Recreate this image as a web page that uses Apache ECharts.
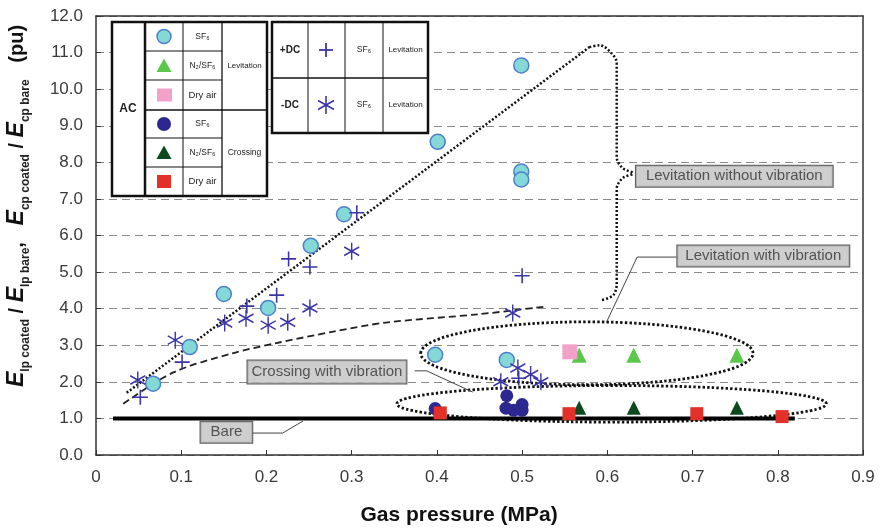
<!DOCTYPE html>
<html><head><meta charset="utf-8">
<script src="https://cdn.jsdelivr.net/npm/echarts@6/dist/echarts.min.js"></script>
<style>html,body{margin:0;padding:0;background:#fff}#c{width:882px;height:531px}</style>
</head><body><div id="c"></div>
<script>
// ---------------- data ----------------
const xTickLabels = ['0','0.1','0.2','0.3','0.4','0.5','0.6','0.7','0.8','0.9'];
const yTickLabels = ['0.0','1.0','2.0','3.0','4.0','5.0','6.0','7.0','8.0','9.0','10.0','11.0','12.0'];

const acSF6Lev   = [[0.067,1.95],[0.110,2.95],[0.150,4.40],[0.202,4.02],[0.252,5.72],[0.291,6.58],[0.401,8.56],[0.499,10.65],[0.499,7.75],[0.499,7.53],[0.398,2.74],[0.482,2.60]];
const acN2Lev    = [[0.567,2.73],[0.631,2.73],[0.752,2.73]];
const acAirLev   = [[0.556,2.82]];
const acSF6Cross = [[0.398,1.27],[0.482,1.62],[0.481,1.28],[0.490,1.22],[0.500,1.38],[0.500,1.22]];
const acN2Cross  = [[0.567,1.29],[0.631,1.29],[0.752,1.29]];
const acAirCross = [[0.404,1.15],[0.555,1.13],[0.705,1.13],[0.805,1.05]];
const dcPosLev   = [[0.052,1.58],[0.101,2.54],[0.177,4.07],[0.212,4.37],[0.226,5.36],[0.251,5.14],[0.306,6.62],[0.500,4.90],[0.496,2.10]];
const dcNegLev   = [[0.049,2.05],[0.093,3.14],[0.151,3.61],[0.176,3.74],[0.202,3.55],[0.225,3.63],[0.251,4.02],[0.300,5.57],[0.489,3.88],[0.475,2.00],[0.495,2.38],[0.510,2.20],[0.522,2.00]];

// trend / annotation lines (data coordinates)
const levTrend   = [[0.036,1.70],[0.579,11.15]];
const braceLine  = [[0.579,11.15],[0.591,11.20],[0.605,10.98],[0.611,10.71],[0.611,8.14],[0.618,7.84],[0.630,7.70],[0.618,7.57],[0.611,7.27],[0.611,4.70],[0.607,4.37],[0.593,4.23]];
const crossTrend = [[0.032,1.40],[0.090,2.25],[0.160,2.78],[0.210,3.05],[0.280,3.38],[0.340,3.62],[0.450,3.85],[0.525,4.05]];
const bareLine   = [[0.02,1.0],[0.82,1.0]];
const ellipses   = [[0.576,2.78,0.195,0.86],[0.605,1.40,0.252,0.50]]; // cx, cy, rx, ry
const noteTexts  = ['Levitation without vibration','Levitation with vibration','Crossing with vibration','Bare'];
const notePos    = [[0.749,7.62],[0.783,5.44],[0.271,2.27],[0.153,0.62]];
const leaders    = [
  [[0.681,5.41],[0.635,5.41],[0.599,3.63]],
  [[0.374,2.30],[0.388,2.30],[0.442,1.72]],
  [[0.184,0.60],[0.219,0.60],[0.243,0.93]]
];

// ---------------- styles ----------------
const FONT = 'Liberation Sans';
const C = {cyan:'#84d9d6', cyanB:'#4f80cc', green:'#5bc84b', pink:'#f2a2c8', navy:'#2d2890', dkgreen:'#0c4a1d', red:'#e3312a', dc:'#3b35a8'};
const plusPath = 'path://M10,0 L10,20 M0,10 L20,10';
const astPath  = 'path://M10,0 L10,20 M1.3,5 L18.7,15 M1.3,15 L18.7,5';
const notePad  = [[3,10],[3,8],[4,4],[3,10]];

function lineSeries(data, style, extra){
  return Object.assign({type:'line', data, symbol:'none', silent:true, lineStyle:style, z:2, animation:false}, extra||{});
}

const series = [];
series.push(lineSeries(bareLine, {color:'#000', width:4, type:'solid'}));
series.push(lineSeries(levTrend, {color:'#111', width:2.5, type:[2,2]}));
series.push(lineSeries(braceLine, {color:'#111', width:2.5, type:[2,2]}, {smooth:0.35}));
series.push(lineSeries(crossTrend, {color:'#222', width:1.8, type:[7,4]}, {smooth:0.3}));
leaders.forEach(l => series.push(lineSeries(l, {color:'#444', width:1, type:'solid'})));
series.push({
  type:'custom', data: ellipses, silent:true, clip:false, z:2,
  renderItem(params, api){
    const c = api.coord([api.value(0), api.value(1)]);
    const s = api.size([api.value(2), api.value(3)]);
    return {type:'ellipse', shape:{cx:c[0], cy:c[1], rx:s[0], ry:s[1]},
            style:{fill:null, stroke:'#111', lineWidth:2.8, lineDash:[2.4,2.2]}};
  }
});
function sc(data, symbol, size, item){
  return {type:'scatter', data, symbol, symbolSize:size, itemStyle:item, z:4, silent:true};
}
series.push(sc(acSF6Lev, 'circle', 15, {color:C.cyan, borderColor:C.cyanB, borderWidth:1.5, opacity:1}));
series.push(sc(acN2Lev, 'triangle', 15, {color:C.green, opacity:1}));
series.push(sc(acAirLev, 'rect', 15, {color:C.pink, opacity:1}));
series.push(sc(acSF6Cross, 'circle', 13, {color:C.navy, opacity:1}));
series.push(sc(acN2Cross, 'triangle', 14, {color:C.dkgreen, opacity:1}));
series.push(sc(acAirCross, 'rect', 13, {color:C.red, opacity:1}));
series.push(sc(dcPosLev, plusPath, 15, {color:'transparent', borderColor:C.dc, borderWidth:1.6, opacity:1}));
series.push(sc(dcNegLev, astPath, [15,17], {color:'transparent', borderColor:C.dc, borderWidth:1.5, opacity:1}));
series.push({
  type:'scatter', z:6, silent:true, symbolSize:1, itemStyle:{color:'transparent'},
  data: noteTexts.map((t,i)=>({name:t, value:notePos[i], label:{padding:notePad[i]}})),
  label:{show:true, position:'inside', formatter:'{b}', fontFamily:FONT, fontSize:15, color:'#333',
         backgroundColor:'#c2c2c2', borderColor:'#333', borderWidth:1}
});

// ---------------- legend tables (graphic) ----------------
const G = [];
const ink = '#111';
function gl(x1,y1,x2,y2,w,col){G.push({type:'line', shape:{x1,y1,x2,y2}, style:{stroke:col||ink, lineWidth:w}, z:21});}
function gt(x,y,text,size,bold){G.push({type:'text', x, y, z:22, style:{text, fontSize:size, fontWeight:bold?'bold':'normal', fill:'#222', align:'center', verticalAlign:'middle', fontFamily:FONT}});}
// left table
G.push({type:'rect', shape:{x:112,y:22,width:155,height:174}, style:{fill:'#fff', stroke:ink, lineWidth:2.5}, z:20});
const L = {x1:145, x2:183, x3:222, x4:267, rows:[22,51,80,110,138,167,196]};
gl(L.x1,22,L.x1,196,2.5);
gl(L.x2,22,L.x2,196,1);
gl(L.x3,22,L.x3,196,1.3);
[51,80,138,167].forEach(y=>gl(L.x1,y,L.x3,y,1));
gl(L.x1,110,L.x4,110,1.6);
gt(128,109,'AC',12,true);
const gasNames = ['SF₆','N₂/SF₆','Dry air','SF₆','N₂/SF₆','Dry air'];
gasNames.forEach((g,i)=>gt(202.5,(L.rows[i]+L.rows[i+1])/2,g,g==='Dry air'?9.5:8.5,false));
gt(244.5,66,'Levitation',8,false);
gt(244.5,153,'Crossing',8.5,false);
const sy = i => (L.rows[i]+L.rows[i+1])/2;
G.push({type:'circle', shape:{cx:164,cy:sy(0),r:7}, style:{fill:C.cyan, stroke:C.cyanB, lineWidth:1.5}, z:22});
G.push({type:'polygon', shape:{points:[[164,sy(1)-7],[171.5,sy(1)+6.5],[156.5,sy(1)+6.5]]}, style:{fill:C.green}, z:22});
G.push({type:'rect', shape:{x:157,y:sy(2)-6.5,width:15,height:13}, style:{fill:C.pink}, z:22});
G.push({type:'circle', shape:{cx:164,cy:sy(3),r:7}, style:{fill:C.navy}, z:22});
G.push({type:'polygon', shape:{points:[[164,sy(4)-7],[171.5,sy(4)+6.5],[156.5,sy(4)+6.5]]}, style:{fill:C.dkgreen}, z:22});
G.push({type:'rect', shape:{x:157,y:sy(5)-6.5,width:14,height:13}, style:{fill:C.red}, z:22});
// right table
G.push({type:'rect', shape:{x:272,y:22,width:156,height:111}, style:{fill:'#fff', stroke:ink, lineWidth:2.5}, z:20});
[308,345,383].forEach(x=>gl(x,22,x,133,1));
gl(272,78,428,78,1.6);
gt(290,50,'+DC',10,true);
gt(290,105,'-DC',10,true);
gt(364,50,'SF₆',8.5,false);
gt(364,105,'SF₆',8.5,false);
gt(405.5,50,'Levitation',8,false);
gt(405.5,105,'Levitation',8,false);
gl(326,43,326,57,1.8,C.dc); gl(319,50,333,50,1.8,C.dc);
gl(326,96,326,114,1.6,C.dc); gl(318,100.5,334,109.5,1.6,C.dc); gl(318,109.5,334,100.5,1.6,C.dc);

// axis titles
G.push({type:'text', x:459, y:515, z:22, style:{text:'Gas pressure (MPa)', fontFamily:FONT, fontSize:21, fontWeight:'bold', fill:'#111', align:'center', verticalAlign:'middle'}});
G.push({type:'text', x:17, y:206, rotation:Math.PI/2, z:22, style:{
  text:'{E|E}{s|lp coated}{n| / }{E|E}{s|lp bare}{n|,   }{E|E}{s|cp coated}{n| / }{E|E}{s|cp bare}{n|   (pu)}',
  align:'center', verticalAlign:'middle', fontFamily:FONT,
  rich:{
    E:{fontSize:23, fontWeight:'bold', fontStyle:'italic', fill:'#111', fontFamily:FONT, lineHeight:30, verticalAlign:'middle'},
    s:{fontSize:12, fontWeight:'bold', fill:'#222', fontFamily:FONT, lineHeight:14, verticalAlign:'bottom'},
    n:{fontSize:20, fontWeight:'bold', fill:'#111', fontFamily:FONT, lineHeight:30, verticalAlign:'middle'}
  }}});

// ---------------- chart ----------------
const chart = echarts.init(document.getElementById('c'), null, {renderer:'canvas'});
const axisLab = {fontFamily:FONT, fontSize:17, color:'#3a3a3a'};
chart.setOption({
  animation:false,
  backgroundColor:'#fff',
  grid:{left:96, right:19, top:16, bottom:76, containLabel:false},
  xAxis:[
    {type:'value', min:0, max:0.9, interval:0.1, position:'bottom',
     axisLine:{show:true, onZero:false, lineStyle:{color:'#333', width:1.5}},
     axisTick:{show:true, inside:true, length:5, lineStyle:{color:'#333'}},
     axisLabel:{...axisLab, margin:14, formatter:(v)=>xTickLabels[Math.round(v*10)]},
     splitLine:{show:false}},
    {type:'value', min:0, max:0.9, interval:0.1, position:'top', z:5,
     axisLine:{show:true, onZero:false, lineStyle:{color:'#333', width:1.5}},
     axisTick:{show:false}, axisLabel:{show:false}, splitLine:{show:false}}
  ],
  yAxis:[
    {type:'value', min:0, max:12, interval:1, position:'left',
     axisLine:{show:true, onZero:false, lineStyle:{color:'#333', width:1.5}},
     axisTick:{show:true, inside:true, length:5, lineStyle:{color:'#333'}},
     axisLabel:{...axisLab, margin:13, formatter:(v)=>yTickLabels[Math.round(v)]},
     splitLine:{show:true, lineStyle:{color:'#8a8a8a', width:1, type:[8,5]}}},
    {type:'value', min:0, max:12, interval:1, position:'right', z:5,
     axisLine:{show:true, onZero:false, lineStyle:{color:'#333', width:1.5}},
     axisTick:{show:false}, axisLabel:{show:false}, splitLine:{show:false}}
  ],
  series: series,
  graphic: G
});
</script>
</body></html>
